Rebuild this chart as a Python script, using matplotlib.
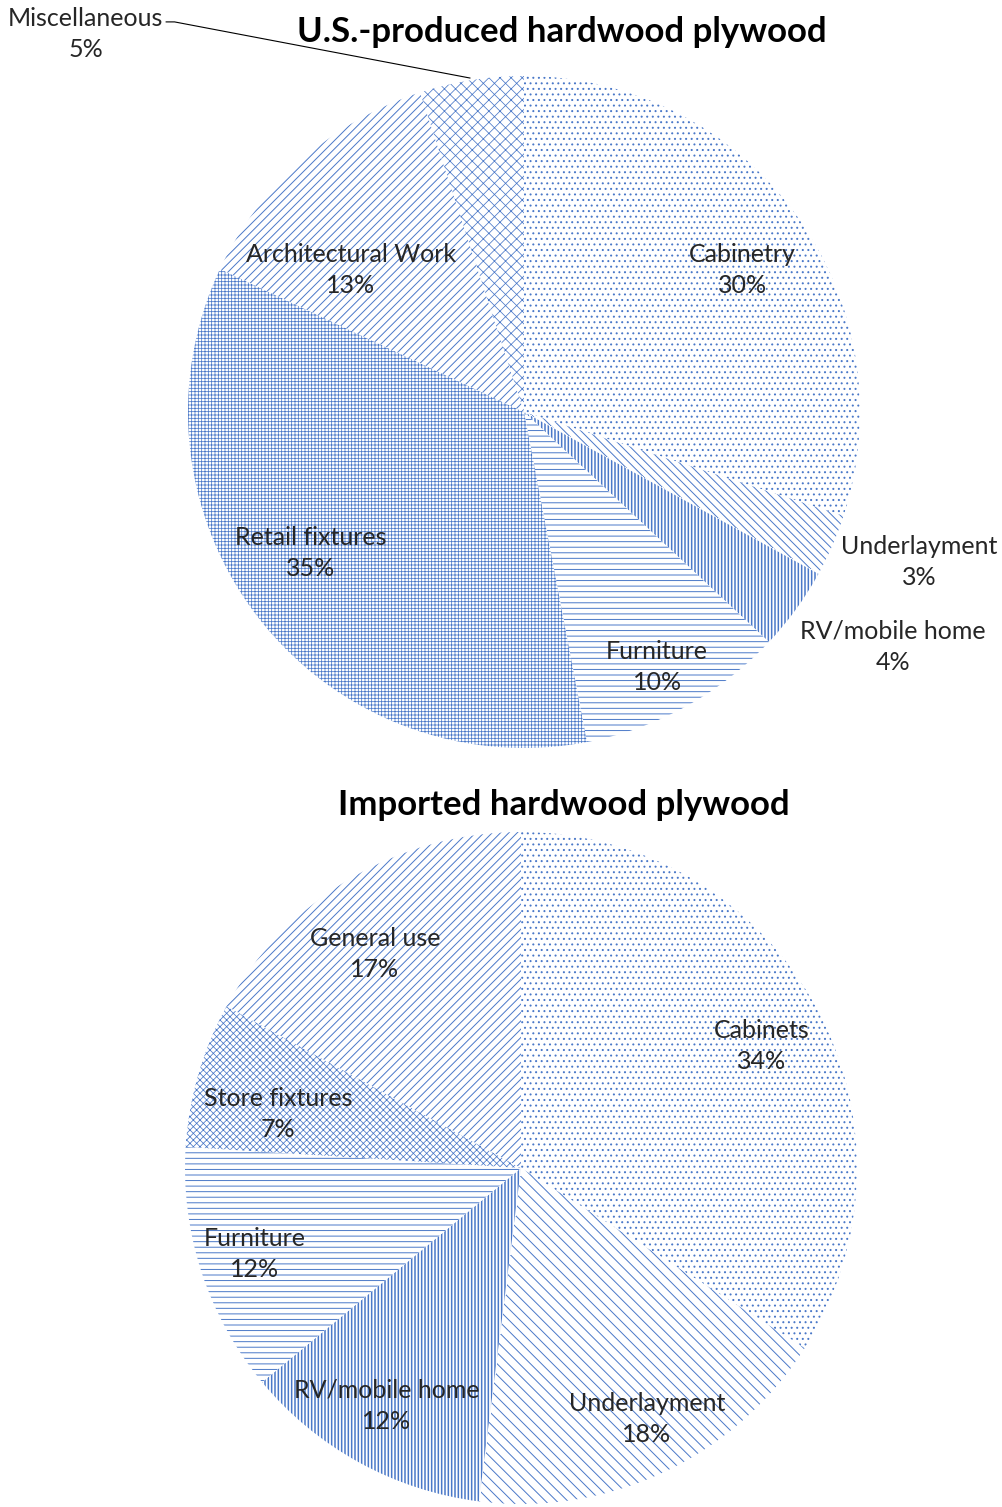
import matplotlib
matplotlib.use("Agg")
import matplotlib.pyplot as plt

plt.rcParams['font.family'] = ['Lato', 'DejaVu Sans']
plt.rcParams['hatch.linewidth'] = 0.7

# ---- data ----
us_categories = ["Cabinetry", "Underlayment", "RV/mobile home", "Furniture",
                 "Retail fixtures", "Architectural Work", "Miscellaneous"]
us_values = [30, 3, 4, 10, 35, 13, 5]

imp_categories = ["Cabinets", "Underlayment", "RV/mobile home", "Furniture",
                  "Store fixtures", "General use"]
imp_values = [34, 18, 12, 12, 7, 17]

titles = ["U.S.-produced hardwood plywood", "Imported hardwood plywood"]

# ---- styling / layout ----
BLUE = '#4a78c8'
us_hatches = ['...', '\\\\\\\\', '|||||', '---', '+++++', '////', 'xxx']
imp_hatches = ['...', '\\\\\\', '|||||', '---', 'xxxxx', '////']

# label positions (in pie-radius units, relative to centre)
us_label_pos = [(0.649, 0.423), (1.176, -0.446), (1.098, -0.699), (0.396, -0.759),
                (-0.634, -0.420), (-0.515, 0.423), (-1.304, 1.125)]
imp_label_pos = [(0.717, 0.363), (0.375, -0.747), (-0.399, -0.708), (-0.792, -0.256),
                 (-0.723, 0.161), (-0.435, 0.637)]

W, H = 1003, 1507
fig = plt.figure(figsize=(W / 100, H / 100), dpi=100)


def make_ax(cx, cy, r):
    return fig.add_axes([(cx - r) / W, 1 - (cy + r) / H, 2 * r / W, 2 * r / H])


def finish(ax):
    ax.set_xlim(-1, 1)
    ax.set_ylim(-1, 1)
    ax.set_aspect('equal')
    ax.axis('off')


def set_hlw(w, lw):
    try:
        w.set_hatch_linewidth(lw)
    except Exception:
        pass


def draw(ax, cats, vals, hatches, lpos):
    wedges, _ = ax.pie(vals, startangle=90, counterclock=False, radius=1,
                       colors=['white'] * len(vals),
                       wedgeprops=dict(edgecolor=BLUE, linewidth=0))
    for w, h in zip(wedges, hatches):
        w.set_hatch(h)
        w.set_edgecolor(BLUE)
        w.set_linewidth(0)
        w.set_clip_on(False)
        if h.startswith('|'):
            w.set_antialiased(False)
            set_hlw(w, 1.1)
        if h.startswith('+') or h.startswith('x'):
            set_hlw(w, 0.55)
    total = sum(vals)
    for c, v, (x, y) in zip(cats, vals, lpos):
        ax.text(x, y, f"{c}\n{round(100 * v / total)}%", ha='center', va='center',
                fontsize=18, color='#262626', linespacing=1.45, clip_on=False)
    finish(ax)
    return wedges


ax1 = make_ax(524, 412, 336)
draw(ax1, us_categories, us_values, us_hatches, us_label_pos)
ax1.plot([-1.065, -1.04, -0.161], [1.161, 1.161, 0.994], color='black', lw=0.8,
         clip_on=False)

ax2 = make_ax(521, 1168, 336)
draw(ax2, imp_categories, imp_values, imp_hatches, imp_label_pos)

fig.text(562 / W, 1 - 32 / H, titles[0], ha='center', va='center', fontsize=25,
         fontweight='bold', color='black')
fig.text(564 / W, 1 - 805 / H, titles[1], ha='center', va='center', fontsize=25,
         fontweight='bold', color='black')

fig.savefig('out.png', dpi=100)
